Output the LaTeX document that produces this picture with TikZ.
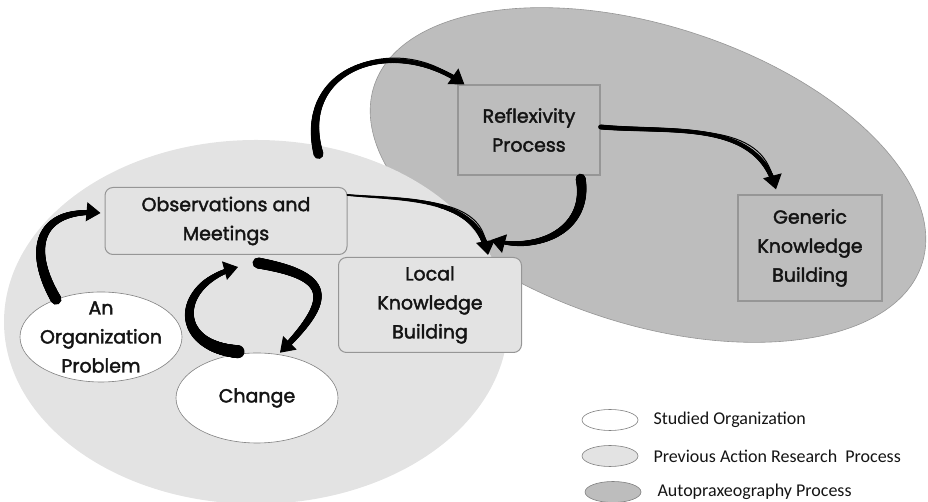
\documentclass[tikz,border=0pt]{standalone}
\usepackage{fontspec}
\usetikzlibrary{positioning,shapes.geometric,arrows.meta,decorations.markings}
\setmainfont{Poppins}[FakeBold=2]
\newfontfamily\keyfont{Carlito}
\definecolor{paleregion}{RGB}{227,227,227}
\definecolor{deepregion}{RGB}{189,189,189}
\definecolor{edgegray}{RGB}{150,150,150}
\definecolor{inkgray}{RGB}{20,20,20}

\tikzset{
  flow/.style n args={3}{
    draw=black, line width=1pt, -{Triangle[length=14pt,width=19pt]},
    postaction={decorate},
    decoration={markings,
      mark=between positions 0 and 0.95 step 0.004 with {
        \pgfmathsetmacro\tpos{0.004*(\pgfkeysvalueof{/pgf/decoration/mark info/sequence number}-1)}
        \pgfmathsetmacro\halfw{0.5*((1-\tpos)^2*#1+2*\tpos*(1-\tpos)*#2+\tpos^2*#3)}
        \fill[black] (0,0) circle (\halfw pt);
      }}
  }
}

\begin{document}
\begin{tikzpicture}[x=1pt, y=1pt,
    boxtext/.style={font=\fontsize{19}{29}\selectfont, text=inkgray, align=center},
    pale/.style={boxtext, draw=edgegray, fill=paleregion, rounded corners=8pt, line width=1pt, inner sep=0pt},
    deep/.style={boxtext, draw=edgegray, fill=deepregion, line width=1.3pt, inner sep=0pt},
    org/.style={ellipse, draw=gray, fill=white, line width=0.6pt, minimum width=162pt, minimum height=90pt, inner sep=0pt},
    keyshape/.style={ellipse, draw=gray, line width=0.6pt, minimum width=56pt, minimum height=21pt, inner sep=0pt},
    keytext/.style={font=\keyfont\fontsize{18}{20}\selectfont, text=inkgray, inner sep=0pt}]
  \useasboundingbox (0,0) rectangle (928,502);

  \fill[deepregion, draw=edgegray, line width=0.6pt, rotate around={-18:(648,327)}] (648,327) ellipse (288 and 149);
  \fill[paleregion] (256,180) ellipse (252 and 182);

  \node[pale, minimum width=242pt, minimum height=67pt] (obs) at (226,281) {Observations and\\Meetings};
  \node[pale, minimum width=183pt, minimum height=95pt] (local) at (430,197) {Local\\Knowledge\\Building};
  \node[deep, minimum width=142pt, minimum height=90pt] (refl) at (529,372) {Reflexivity\\Process};
  \node[deep, minimum width=144pt, minimum height=106pt] (generic) at (810,254) {Generic\\Knowledge\\Building};
  \node[org, label={[boxtext]center:An\\Organization\\Problem}] (problem) at (101,165) {};
  \node[org, boxtext] (change) at (257,104) {Change};

  \draw[flow={11}{9}{4}] (problem.140) to[out=120, in=175, looseness=1.6] ([xshift=-4pt, yshift=8pt]obs.west);
  \draw[flow={13}{9}{4}] ([xshift=-19pt, yshift=1pt]change.north) to[out=175, in=195, looseness=2] ([xshift=12pt, yshift=-12pt]obs.south);
  \draw[flow={11}{9}{5}] ([xshift=32pt, yshift=-8pt]obs.south) to[out=-10, in=45, looseness=2.1] ([xshift=23pt]change.north);
  \draw[flow={10}{3}{5}] ([xshift=-29pt, yshift=33pt]obs.north east) to[out=105, in=145, looseness=1.4] ([xshift=7pt]refl.north west);
  \draw[flow={2}{3.5}{6}] ([yshift=-8pt]obs.north east) to[out=-5, in=100] ([xshift=58pt, yshift=2pt]local.north);
  \draw[flow={10}{7}{3}] ([xshift=-20pt, yshift=-3pt]refl.south east) to[out=-80, in=-15, looseness=1.2] ([xshift=-31pt, yshift=17pt]local.north east);
  \draw[flow={5}{3.5}{5}] ([yshift=3pt]refl.east) to[out=-5, in=105] ([xshift=-34pt, yshift=5pt]generic.north);

  \node[keyshape, fill=white] (keyorg) at (610,82) {};
  \node[keyshape, fill=paleregion] (keypale) at (610,46) {};
  \node[keyshape, fill=deepregion] (keydeep) at (613,10) {};
  \node[keytext, right=15pt of keyorg] (keyorgtext) {Studied Organization};
  \node[keytext, right=15pt of keypale] (keypaletext) {Previous Action Research~ Process};
  \node[keytext, right=16pt of keydeep] (keydeeptext) {Autopraxeography Process};
\end{tikzpicture}
\end{document}
